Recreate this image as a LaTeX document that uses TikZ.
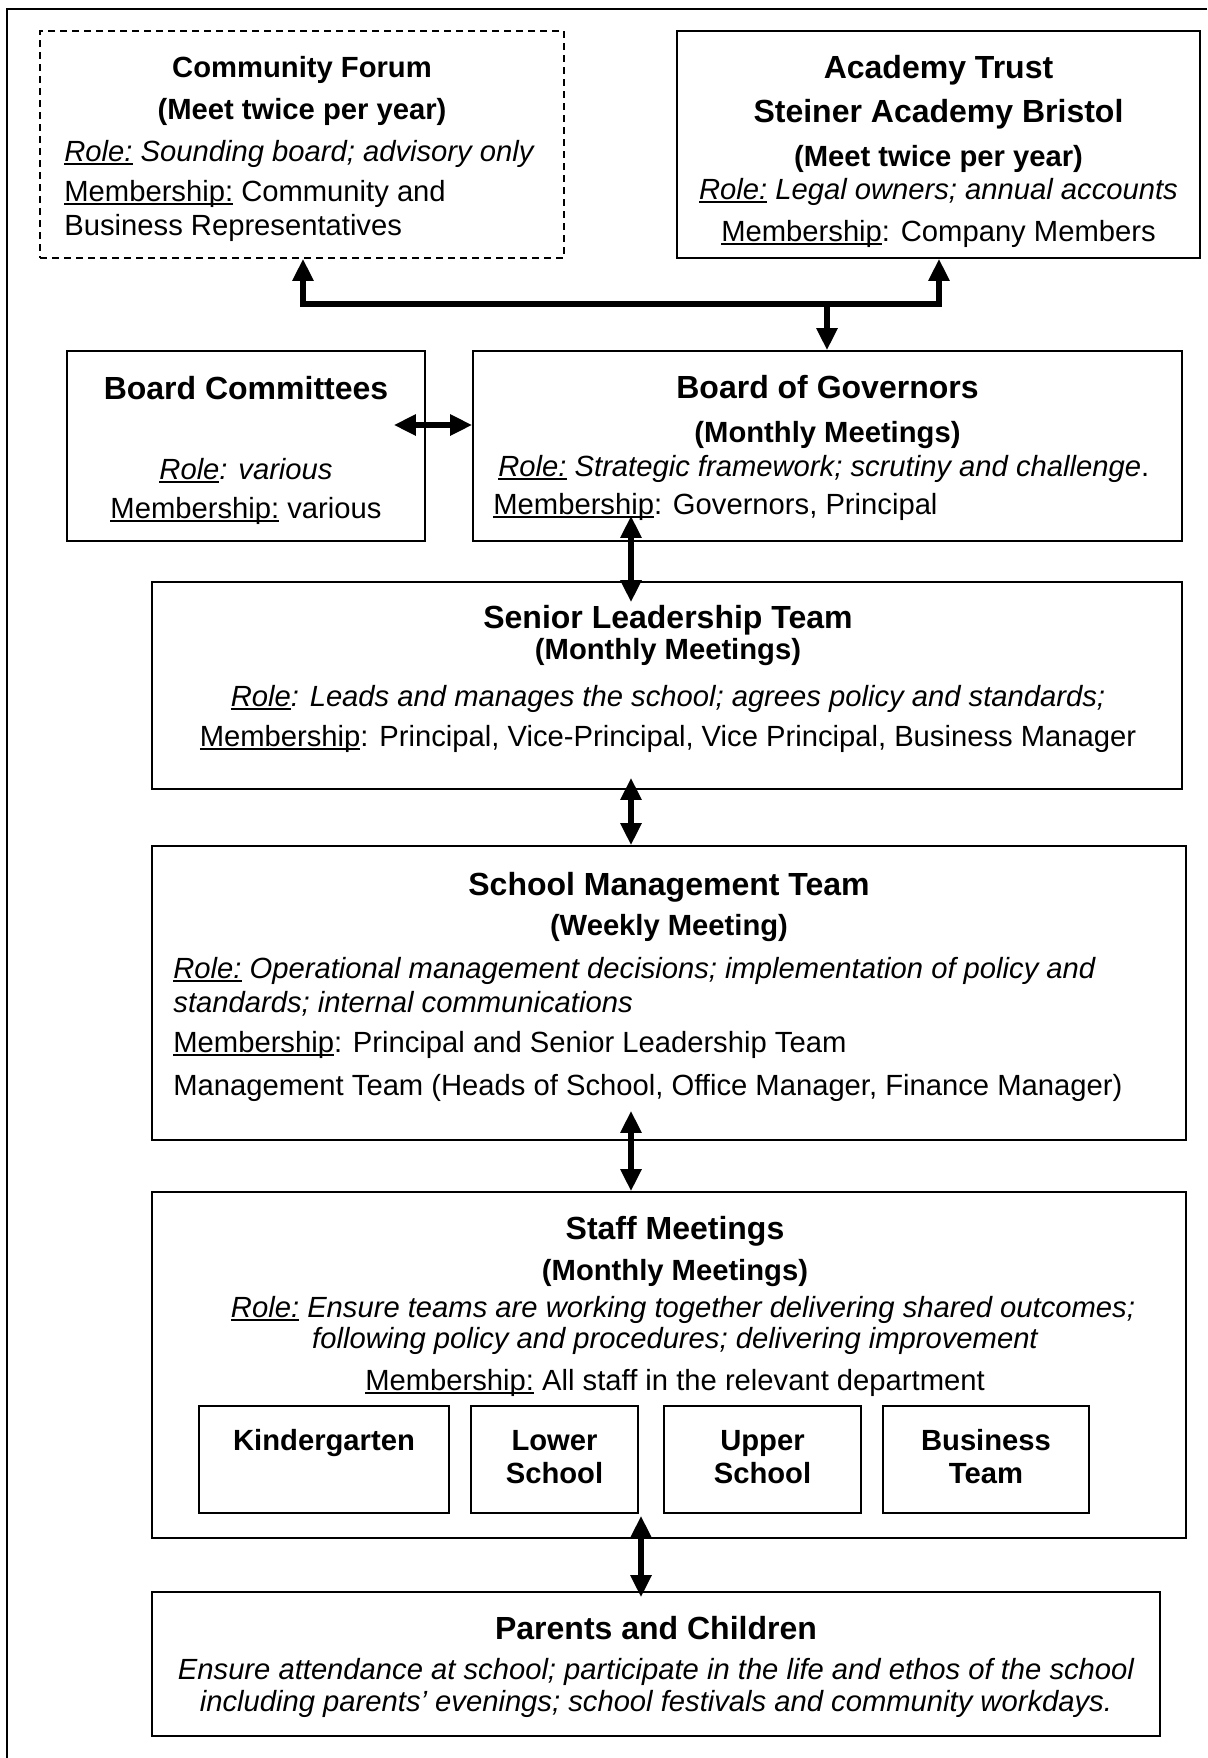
\documentclass[tikz,border=0pt]{standalone}
\usepackage{fontspec}
\setmainfont{Liberation Sans}
\usetikzlibrary{arrows.meta,fit}

% underline at a fixed depth below the baseline
\newcommand\ulin[1]{\sbox0{#1}\rlap{\rule[-0.15em]{\wd0}{0.07em}}\usebox0}

\tikzset{
  box/.style={draw, line width=0.8pt, inner sep=0pt},
  dbox/.style={box, dash pattern=on 3.5pt off 2.5pt},
  frame/.style={draw, line width=1pt},
  ttl/.style={anchor=base, inner sep=0pt, font=\fontsize{16}{19}\selectfont\bfseries},
  sub/.style={anchor=base, inner sep=0pt, font=\fontsize{14.6}{17.5}\selectfont\bfseries},
  txt/.style={anchor=base, inner sep=0pt, font=\fontsize{14.6}{17.5}\selectfont},
  ltxt/.style={txt, anchor=base west},
  conn/.style={line width=2.8pt, line join=miter},
  tip/.tip={Triangle[length=11pt,width=10pt]},
}

\begin{document}
\begin{tikzpicture}[x=0.5pt, y=-0.5pt]
\useasboundingbox (0,0) rectangle (1207,1758);

% page frame (top and left edges)
\draw[frame] (1207,9) -- (7,9) -- (7,1758);

% ---------- boxes ----------
\node[dbox, fit={(40,31) (564,258)}] (cf) {};
\node[box, fit={(677,31) (1200,258)}] (acad) {};
\node[box, fit={(67,351) (425,541)}] (bc) {};
\node[box, fit={(473,351) (1182,541)}] (bog) {};
\node[box, fit={(152,582) (1182,789)}] (slt) {};
\node[box, fit={(152,846) (1186,1140)}] (smt) {};
\node[box, fit={(152,1192) (1186,1538)}] (staff) {};
\node[box, fit={(199,1406) (449,1513)}] (kg) {};
\node[box, fit={(471,1406) (638,1513)}] (ls) {};
\node[box, fit={(664,1406) (861,1513)}] (us) {};
\node[box, fit={(883,1406) (1089,1513)}] (bt) {};
\node[box, fit={(152,1592) (1160,1736)}] (pc) {};

% ---------- Community Forum ----------
\node[sub] (cf1) at (302,77) {Community Forum};
\node[sub] (cf2) at (302,119) {(Meet twice per year)};
\node[ltxt] (cf3) at (64,161) {\itshape\ulin{Role:} Sounding board; advisory only};
\node[ltxt] (cf4) at (64,201) {\ulin{Membership:} Community and};
\node[ltxt] (cf5) at (64,235) {Business Representatives};

% ---------- Academy Trust ----------
\node[ttl] (ac1) at (938.5,78) {Academy Trust};
\node[ttl] (ac2) at (938.5,122) {Steiner Academy Bristol};
\node[sub] (ac3) at (938.5,166) {(Meet twice per year)};
\node[txt] (ac4) at (938.5,199) {\itshape\ulin{Role:} Legal owners; annual accounts};
\node[txt] (ac5) at (938.5,241) {\ulin{Membership}: Company Members};

% ---------- Board Committees ----------
\node[ttl] (bc1) at (246,399) {Board Committees};
\node[txt] (bc2) at (246,479) {\itshape\ulin{Role}: various};
\node[txt] (bc3) at (246,518) {\ulin{Membership:} various};

% ---------- Board of Governors ----------
\node[ttl] (bg1) at (827.5,398) {Board of Governors};
\node[sub] (bg2) at (827.5,442) {(Monthly Meetings)};
\node[ltxt] (bg3) at (498,476) {{\itshape\ulin{Role:} Strategic framework; scrutiny and challenge}.};
\node[ltxt] (bg4) at (493,514) {\ulin{Membership}: Governors, Principal};

% ---------- Senior Leadership Team ----------
\node[ttl] (sl1) at (668,628) {Senior Leadership Team};
\node[sub] (sl2) at (668,659) {(Monthly Meetings)};
\node[txt] (sl3) at (668,706) {\itshape\ulin{Role}: Leads and manages the school; agrees policy and standards;};
\node[txt] (sl4) at (668,746) {\ulin{Membership}: Principal, Vice-Principal, Vice Principal, Business Manager};

% ---------- School Management Team ----------
\node[ttl] (sm1) at (669,895) {School Management Team};
\node[sub] (sm2) at (669,935) {(Weekly Meeting)};
\node[ltxt] (sm3) at (173,978) {\itshape\ulin{Role:} Operational management decisions; implementation of policy and};
\node[ltxt] (sm4) at (173,1012) {\itshape standards; internal communications};
\node[ltxt] (sm5) at (173,1052) {\ulin{Membership}: Principal and Senior Leadership Team};
\node[ltxt] (sm6) at (173,1095) {Management Team (Heads of School, Office Manager, Finance Manager)};

% ---------- Staff Meetings ----------
\node[ttl] (st1) at (675,1239) {Staff Meetings};
\node[sub] (st2) at (675,1280) {(Monthly Meetings)};
\node[txt] (st3) at (683,1317) {\itshape\ulin{Role:} Ensure teams are working together delivering shared outcomes;};
\node[txt] (st4) at (675,1348) {\itshape following policy and procedures; delivering improvement};
\node[txt] (st5) at (675,1390) {\ulin{Membership:} All staff in the relevant department};

\node[sub] (kg1) at (324,1450) {Kindergarten};
\node[sub] (ls1) at (554.5,1450) {Lower};
\node[sub] (ls2) at (554.5,1483) {School};
\node[sub] (us1) at (762.5,1450) {Upper};
\node[sub] (us2) at (762.5,1483) {School};
\node[sub] (bt1) at (986,1450) {Business};
\node[sub] (bt2) at (986,1483) {Team};

% ---------- Parents and Children ----------
\node[ttl] (pc1) at (656,1639) {Parents and Children};
\node[txt] (pc2) at (656,1679) {\itshape Ensure attendance at school; participate in the life and ethos of the school};
\node[txt] (pc3) at (656,1711) {\itshape including parents’ evenings; school festivals and community workdays.};

% ---------- connectors ----------
\coordinate (jl) at (303,304);
\coordinate (jr) at (939,304);
\coordinate (jm) at (827,304);
\coordinate (hy) at (0,425);
\coordinate (vx) at (631,0);
\coordinate (wx) at (641,0);

\draw[conn, {tip}-{tip}] (cf.south -| jl) -- (jl) -- (jr) -- (acad.south -| jr);
\draw[conn, -{tip}] (jm) -- (bog.north -| jm);
\draw[conn, {tip}-{tip}, shorten <=-16pt] (bc.east |- hy) -- (bog.west |- hy);
\draw[conn, {tip}-{tip}, shorten <=-13pt, shorten >=-10.5pt] (bog.south -| vx) -- (slt.north -| vx);
\draw[conn, {tip}-{tip}, shorten <=-6pt] (slt.south -| vx) -- (smt.north -| vx);
\draw[conn, {tip}-{tip}, shorten <=-15pt] (smt.south -| vx) -- (staff.north -| vx);
\draw[conn, {tip}-{tip}, shorten <=-11.5pt, shorten >=-3pt] (staff.south -| wx) -- (pc.north -| wx);
\end{tikzpicture}
\end{document}
